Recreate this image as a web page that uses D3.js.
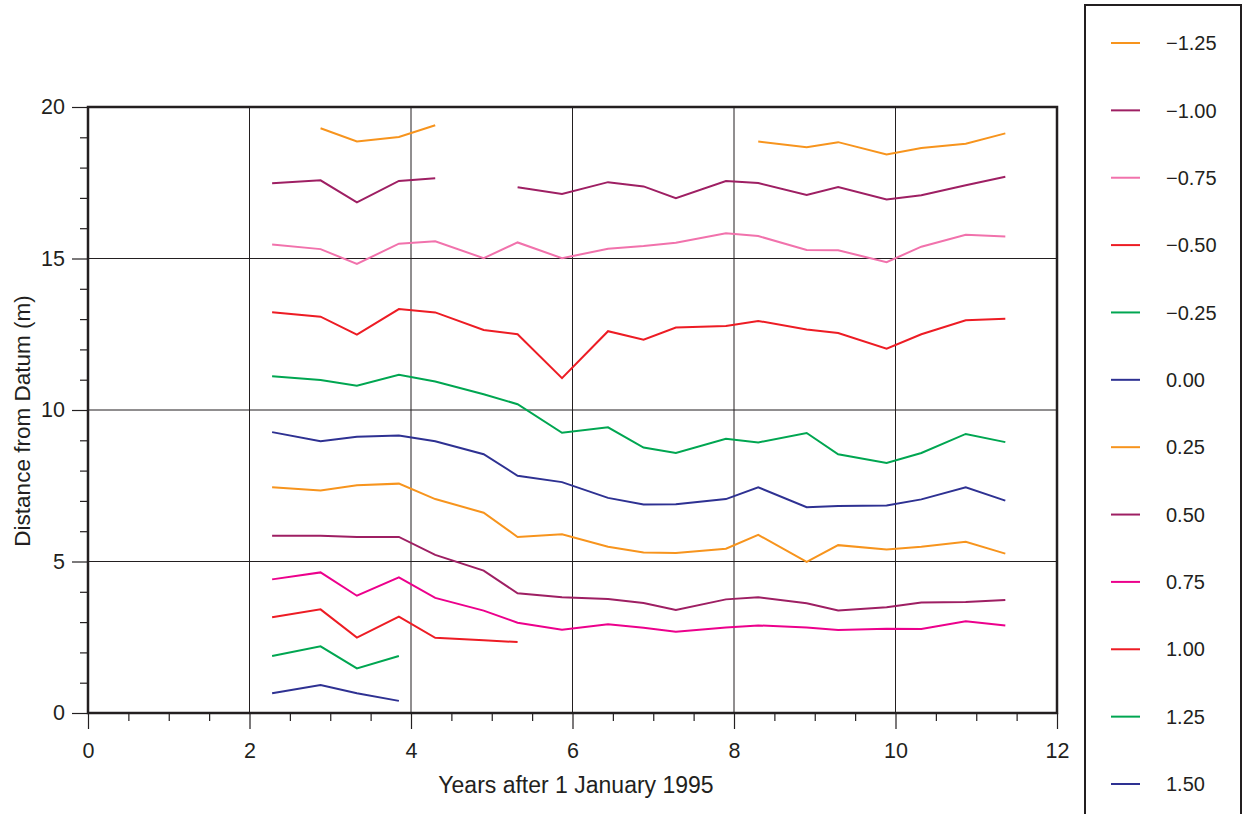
<!DOCTYPE html>
<html><head><meta charset="utf-8">
<script src="https://cdn.jsdelivr.net/npm/d3@7"></script>
<style>body{margin:0;background:#fff;} svg{display:block;font-family:"Liberation Sans",Arial,sans-serif;}</style>
</head><body>
<svg id="chart" width="1252" height="814"></svg>
<script>
const years = [2.28, 2.88, 3.33, 3.85, 4.30, 4.90, 5.32, 5.87, 6.44, 6.88, 7.28, 7.90, 8.30, 8.90, 9.29, 9.89, 10.32, 10.87, 11.36];
const seriesNames = ["\u22121.25", "\u22121.00", "\u22120.75", "\u22120.50", "\u22120.25", "0.00", "0.25", "0.50", "0.75", "1.00", "1.25", "1.50"];
const seriesColors = ["#F7941D", "#9E1F63", "#F172AC", "#ED1C24", "#00A651", "#2E3192", "#F7941D", "#9E1F63", "#EC008C", "#ED1C24", "#00A651", "#2E3192"];
// null = no survey at that time
const sM125 = [null, 19.30, 18.86, 19.01, 19.40, null, null, null, null, null, null, null, 18.86, 18.67, 18.84, 18.43, 18.65, 18.79, 19.13];
const sM100 = [17.48, 17.58, 16.85, 17.56, 17.65, null, 17.35, 17.13, 17.52, 17.38, 16.99, 17.56, 17.49, 17.10, 17.36, 16.95, 17.09, 17.42, 17.70];
const sM075 = [15.46, 15.31, 14.82, 15.49, 15.57, 15.01, 15.53, 15.01, 15.32, 15.41, 15.52, 15.83, 15.74, 15.28, 15.27, 14.88, 15.39, 15.78, 15.73];
const sM050 = [13.23, 13.08, 12.49, 13.33, 13.22, 12.64, 12.50, 11.05, 12.60, 12.32, 12.72, 12.77, 12.94, 12.66, 12.54, 12.02, 12.50, 12.96, 13.01];
const sM025 = [11.11, 10.99, 10.80, 11.16, 10.94, 10.52, 10.19, 9.25, 9.43, 8.76, 8.58, 9.05, 8.93, 9.24, 8.54, 8.25, 8.58, 9.21, 8.94];
const s000 = [9.27, 8.97, 9.12, 9.16, 8.97, 8.54, 7.83, 7.62, 7.10, 6.88, 6.89, 7.06, 7.45, 6.79, 6.83, 6.85, 7.05, 7.45, 7.01];
const s025 = [7.45, 7.34, 7.52, 7.57, 7.06, 6.61, 5.81, 5.90, 5.49, 5.30, 5.28, 5.42, 5.88, 4.99, 5.54, 5.40, 5.49, 5.65, 5.26];
const s050 = [5.85, 5.85, 5.81, 5.81, 5.22, 4.70, 3.95, 3.82, 3.76, 3.63, 3.40, 3.75, 3.82, 3.62, 3.38, 3.49, 3.65, 3.66, 3.73];
const s075 = [4.41, 4.64, 3.87, 4.48, 3.80, 3.38, 2.98, 2.75, 2.93, 2.81, 2.68, 2.82, 2.89, 2.82, 2.74, 2.78, 2.77, 3.03, 2.89];
const s100 = [3.16, 3.42, 2.49, 3.18, 2.48, 2.40, 2.34, null, null, null, null, null, null, null, null, null, null, null, null];
const s125 = [1.88, 2.20, 1.47, 1.88, null, null, null, null, null, null, null, null, null, null, null, null, null, null, null];
const s150 = [0.65, 0.92, 0.65, 0.40, null, null, null, null, null, null, null, null, null, null, null, null, null, null, null];
const allSeries = [sM125, sM100, sM075, sM050, sM025, s000, s025, s050, s075, s100, s125, s150];
const xTicks = [0, 2, 4, 6, 8, 10, 12];
const yTicks = [0, 5, 10, 15, 20];

const svg = d3.select("#chart");
const ink = "#231F20";
const x = d3.scaleLinear().domain([0, 12]).range([88, 1057]);
const y = d3.scaleLinear().domain([0, 20]).range([713, 107]);

// grid
const grid = svg.append("g");
grid.selectAll(".vg").data(xTicks.slice(1, -1)).join("line")
  .attr("x1", d => x(d)).attr("x2", d => x(d)).attr("y1", y(0)).attr("y2", y(20))
  .attr("stroke", ink).attr("stroke-width", 1);
grid.selectAll(".hg").data(yTicks.slice(1, -1)).join("line")
  .attr("x1", x(0)).attr("x2", x(12)).attr("y1", d => y(d)).attr("y2", d => y(d))
  .attr("stroke", ink).attr("stroke-width", 1);

// lines
const line = d3.line().defined(d => d.v !== null).x(d => x(d.t)).y(d => y(d.v));
allSeries.forEach((s, i) => {
  const pts = s.map((v, j) => ({t: years[j], v: v}));
  svg.append("path").datum(pts).attr("d", line)
    .attr("fill", "none").attr("stroke", seriesColors[i]).attr("stroke-width", 2)
    .attr("stroke-linejoin", "miter");
});

// axes
const xAxis = d3.axisBottom(x).tickValues(xTicks).tickSize(16).tickPadding(14).tickFormat(d3.format("d"));
const xMinor = d3.axisBottom(x).tickValues(d3.range(0, 12.01, 0.5).filter(d => d % 2 !== 0)).tickSize(8).tickFormat("");
const yAxis = d3.axisLeft(y).tickValues(yTicks).tickSize(16).tickPadding(7).tickFormat(d3.format("d"));
const yMinor = d3.axisLeft(y).tickValues(d3.range(0, 20.01, 1).filter(d => d % 5 !== 0)).tickSize(8).tickFormat("");

function style(g) {
  g.attr("font-family", null).attr("font-size", null);
  g.select(".domain").remove();
  g.selectAll("line").attr("stroke", ink).attr("stroke-width", 1.2);
  g.selectAll("text").attr("fill", ink).attr("font-size", 21.5);
}
svg.append("g").attr("transform", `translate(0,${y(0)})`).call(xAxis).call(style);
svg.append("g").attr("transform", `translate(0,${y(0)})`).call(xMinor).call(style);
svg.append("g").attr("transform", `translate(${x(0)},0)`).call(yAxis).call(style);
svg.append("g").attr("transform", `translate(${x(0)},0)`).call(yMinor).call(style);

// frame
svg.append("rect").attr("x", x(0)).attr("y", y(20)).attr("width", x(12) - x(0)).attr("height", y(0) - y(20))
  .attr("fill", "none").attr("stroke", ink).attr("stroke-width", 2.5);

// titles
svg.append("text").attr("x", 576).attr("y", 793).attr("text-anchor", "middle")
  .attr("font-size", 23).attr("fill", ink).text("Years after 1 January 1995");
svg.append("text").attr("transform", "translate(30,421) rotate(-90)").attr("text-anchor", "middle")
  .attr("font-size", 22.5).attr("fill", ink).text("Distance from Datum (m)");

// legend
const leg = svg.append("g");
leg.append("rect").attr("x", 1085).attr("y", 5).attr("width", 156).attr("height", 830)
  .attr("fill", "#fff").attr("stroke", ink).attr("stroke-width", 2);
const ly = d3.scalePoint().domain(seriesNames).range([43, 784]);
seriesNames.forEach((n, i) => {
  leg.append("line").attr("x1", 1111).attr("x2", 1140).attr("y1", ly(n)).attr("y2", ly(n))
    .attr("stroke", seriesColors[i]).attr("stroke-width", 2);
  leg.append("text").attr("x", 1166).attr("y", ly(n)).attr("dy", "0.36em")
    .attr("font-size", 20).attr("fill", ink).text(n);
});
</script>
</body></html>
